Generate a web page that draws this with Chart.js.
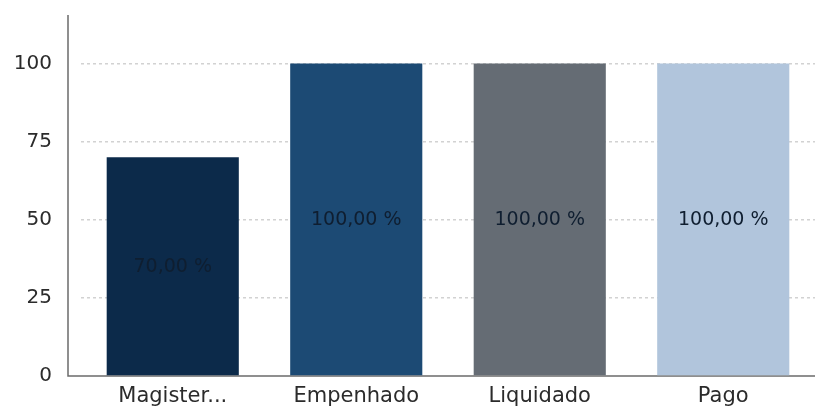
<!DOCTYPE html>
<html>
<head>
<meta charset="utf-8">
<script src="https://cdn.jsdelivr.net/npm/chart.js@4"></script>
<style>
html,body{margin:0;padding:0;background:#fff;overflow:hidden;}
canvas{display:block;}
</style>
</head>
<body>
<canvas id="c" width="819" height="406" style="width:819px;height:406px"></canvas>
<script>
const categories = ["Magister...", "Empenhado", "Liquidado", "Pago"];
const values = [70, 100, 100, 100];
const barColors = ["#0c2a4a", "#1c4a74", "#656c74", "#b1c5dc"];
const yTicks = [0, 25, 50, 75, 100];

const FONT = "'DejaVu Sans', sans-serif";

const axisLines = {
  id: 'axisLines',
  beforeDatasetsDraw(chart) {
    const {ctx, chartArea: a} = chart;
    ctx.save();
    ctx.strokeStyle = '#6b6b6b';
    ctx.lineWidth = 1.5;
    ctx.beginPath();
    ctx.moveTo(a.left - 13, a.top);
    ctx.lineTo(a.left - 13, a.bottom);
    ctx.lineTo(a.right, a.bottom);
    ctx.stroke();
    ctx.restore();
  }
};

const barLabels = {
  id: 'barLabels',
  afterDatasetsDraw(chart) {
    const {ctx} = chart;
    const meta = chart.getDatasetMeta(0);
    ctx.save();
    ctx.font = "19px " + FONT;
    ctx.fillStyle = '#0f1e30';
    ctx.textAlign = 'center';
    ctx.textBaseline = 'middle';
    meta.data.forEach((bar, i) => {
      const v = values[i];
      const txt = v.toFixed(2).replace('.', ',') + ' %';
      ctx.fillText(txt, bar.x, (bar.y + bar.base) / 2 + 1);
    });
    ctx.restore();
  }
};

new Chart(document.getElementById('c'), {
  type: 'bar',
  data: {
    labels: categories,
    datasets: [{
      data: values,
      backgroundColor: barColors,
      borderWidth: 0
    }]
  },
  options: {
    responsive: false,
    maintainAspectRatio: false,
    animation: false,
    devicePixelRatio: 1,
    layout: { padding: { top: 15, right: 4, left: 0, bottom: 0 } },
    plugins: { legend: { display: false }, tooltip: { enabled: false } },
    scales: {
      x: {
        grid: { display: false, drawTicks: false },
        border: { display: false },
        ticks: { font: { family: FONT, size: 21 }, color: '#2b2b2b', padding: 8, maxRotation: 0 },
        afterFit(s) { s.height = 30; s.paddingLeft = 0; s.paddingRight = 0; }
      },
      y: {
        min: 0,
        max: 115.5,
        border: { display: false, dash: [3, 3] },
        grid: {
          drawTicks: false,
          color: (c) => c.tick && c.tick.value > 0 ? '#d2d2d2' : 'rgba(0,0,0,0)',
          lineWidth: 1.5
        },
        afterBuildTicks(s) { s.ticks = yTicks.map(v => ({ value: v })); },
        ticks: { font: { family: FONT, size: 20 }, color: '#2b2b2b', padding: 29 },
        afterFit(s) { s.width = 81; s.paddingTop = 0; s.paddingBottom = 0; }
      }
    }
  },
  plugins: [axisLines, barLabels]
});
</script>
</body>
</html>
